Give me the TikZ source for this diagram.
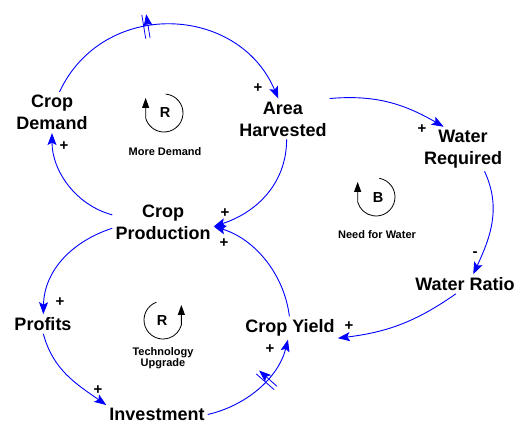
\documentclass[tikz,border=0pt]{standalone}
\usepackage{fontspec}
\setmainfont{Liberation Sans}
\usetikzlibrary{arrows.meta,decorations.markings}
\definecolor{linkblue}{RGB}{0,0,255}
\begin{document}
\begin{tikzpicture}[x=1pt,y=1pt,
  var/.style={font=\fontsize{18}{22}\selectfont\bfseries, align=center, inner sep=3pt},
  link/.style={draw=linkblue, line width=0.9pt,
    -{Stealth[length=12pt,width=9pt,inset=2.5pt]}},
  sign/.style={font=\fontsize{15}{15}\selectfont\bfseries, inner sep=0pt},
  loopname/.style={font=\fontsize{11}{11.5}\selectfont\bfseries, align=center, inner sep=0pt},
  loopletter/.style={font=\fontsize{14.5}{14.5}\selectfont\bfseries, inner sep=0pt},
  looparrow/.style={draw=black, line width=0.8pt, -{Triangle[length=10pt,width=7pt]}},
  delay/.style={postaction={decorate, decoration={markings,
    mark=at position #1 with {\draw[linkblue, line width=0.8pt]
      (-2.2pt,-12pt) -- (-2.2pt,12pt) (2.2pt,-12pt) -- (2.2pt,12pt);}}}}
]
\useasboundingbox (0,0) rectangle (518,-423);

% variables
\node[var] (cd) at (52,-112.5) {Crop\\Demand};
\node[var] (ah) at (283,-119) {Area\\Harvested};
\node[var] (wr) at (463,-149) {Water\\Required};
\node[var] (wa) at (465,-284) {Water Ratio};
\node[var] (cy) at (290,-328) {Crop Yield};
\node[var] (cp) at (163,-222) {Crop\\Production};
\node[var] (pr) at (43,-324) {Profits};
\node[var] (iv) at (157,-414.5) {Investment};

% causal links
\draw[link, delay=0.41] (cd.70) to[out=65,in=113,looseness=1.2] (ah.103);
\draw[link] (ah.north east) to[out=5,in=150] (wr.131);
\draw[link] (wr.-46) to[out=-65,in=65] (wa.50);
\draw[link] (wa.227) to[out=215,in=7] (cy.-12);
\draw[link] (cy.93) to[out=97,in=-17,looseness=0.93] (cp.-5);
\draw[link] (ah.-80) to[out=270,in=18] (cp.-5);
\draw[link] (cp.172) to[out=165,in=-90,looseness=0.95] (cd.-90);
\draw[link] (cp.187) to[out=198,in=89] (pr.88);
\draw[link] (pr.-88) to[out=-75,in=145] (iv.north west);
\draw[link, delay=0.6] (iv.east) to[out=13,in=-104,looseness=0.92] (cy.-100);

% link polarities
\node[sign] (s1) at (258,-88) {+};
\node[sign] (s2) at (422,-129) {+};
\node[sign] (s3) at (475,-254) {-};
\node[sign] (s4) at (349,-326) {+};
\node[sign] (s5) at (224,-243) {+};
\node[sign] (s6) at (225,-213) {+};
\node[sign] (s7) at (64,-146) {+};
\node[sign] (s8) at (60,-302) {+};
\node[sign] (s9) at (98,-390) {+};
\node[sign] (s10) at (270,-349) {+};

% loop markers
\draw[looparrow] (164,-113) ++(85:19) arc (85:-165:19) -- ++(0,20);
\node[loopletter] (r1) at (165,-113) {R};
\node[loopname] (n1) at (165,-152) {More Demand};

\draw[looparrow] (376,-197) ++(80:19) arc (80:-165:19) -- ++(0,20);
\node[loopletter] (b1) at (378,-198) {B};
\node[loopname] (n2) at (377,-235) {Need for Water};

\draw[looparrow] (163,-320) ++(110:19) arc (110:345:19) -- ++(0,20);
\node[loopletter] (r2) at (162,-321) {R};
\node[loopname] (n3) at (163,-358) {Technology\\Upgrade};
\end{tikzpicture}
\end{document}
